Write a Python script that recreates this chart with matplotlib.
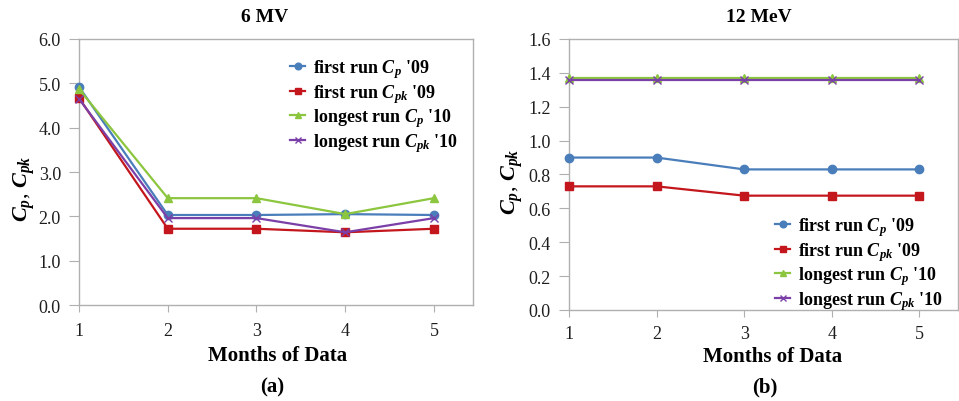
import matplotlib
matplotlib.use("Agg")
import matplotlib.pyplot as plt

plt.rcParams['font.family'] = ['Liberation Serif', 'DejaVu Serif']
plt.rcParams['mathtext.fontset'] = 'custom'
plt.rcParams['mathtext.rm'] = 'Liberation Serif:bold'
plt.rcParams['mathtext.it'] = 'Liberation Serif:italic:bold'
plt.rcParams['mathtext.bf'] = 'Liberation Serif:bold'

months = [1, 2, 3, 4, 5]
series_labels = [r"first run $C_p$ '09", r"first run $C_{pk}$ '09",
                 r"longest run $C_p$ '10", r"longest run $C_{pk}$ '10"]

# panel (a): 6 MV
mv6_first_cp = [4.92, 2.03, 2.03, 2.05, 2.03]
mv6_first_cpk = [4.67, 1.72, 1.72, 1.64, 1.72]
mv6_long_cp = [4.87, 2.41, 2.41, 2.05, 2.41]
mv6_long_cpk = [4.65, 1.96, 1.96, 1.64, 1.96]

# panel (b): 12 MeV
mev12_first_cp = [0.90, 0.90, 0.83, 0.83, 0.83]
mev12_first_cpk = [0.73, 0.73, 0.675, 0.675, 0.675]
mev12_long_cp = [1.37, 1.37, 1.37, 1.37, 1.37]
mev12_long_cpk = [1.36, 1.36, 1.36, 1.36, 1.36]

colors = ['#4A7EBB', '#C3171D', '#8CC63F', '#7B3FA8']
markers = ['o', 's', '^', 'x']


def draw_panel(ax, data, ylim, yticks, xpad):
    for vals, c, m, lab in zip(data, colors, markers, series_labels):
        ax.plot(months, vals, color=c, marker=m, markersize=6, lw=1.6,
                label=lab, clip_on=False, zorder=3)
    ax.set_xlim(1, 5.44)
    ax.set_ylim(*ylim)
    ax.set_xticks(months)
    ax.set_yticks(yticks)
    ax.set_yticklabels(['{:.1f}'.format(v) for v in yticks])
    for sp in ax.spines.values():
        sp.set_color('#B0B0B0')
        sp.set_linewidth(1.0)
    ax.tick_params(axis='x', length=5, pad=xpad, color='#B0B0B0', labelsize=13)
    ax.tick_params(axis='y', length=7, pad=6, color='#B0B0B0', labelsize=13)
    for t in ax.get_xticklabels() + ax.get_yticklabels():
        t.set_color('#1E1E1E')


fig = plt.figure(figsize=(9.59, 4.02), dpi=100)
ax1 = fig.add_axes([0.0824, 0.2388, 0.4108, 0.6617])
ax2 = fig.add_axes([0.5933, 0.2264, 0.4057, 0.6741])

draw_panel(ax1, [mv6_first_cp, mv6_first_cpk, mv6_long_cp, mv6_long_cpk],
           (0, 6.0), [0, 1, 2, 3, 4, 5, 6], 7)
draw_panel(ax2, [mev12_first_cp, mev12_first_cpk, mev12_long_cp, mev12_long_cpk],
           (0, 1.6), [0, 0.2, 0.4, 0.6, 0.8, 1.0, 1.2, 1.4, 1.6], 5.5)

leg_kw = dict(frameon=False, fontsize=13, handlelength=0.85, handletextpad=0.45,
              labelspacing=0.1, borderaxespad=0, borderpad=0, markerscale=0.8)
l1 = ax1.legend(loc='upper left', bbox_to_anchor=(290 / 959, 1 - 58 / 402),
                bbox_transform=fig.transFigure, **leg_kw)
l2 = ax2.legend(loc='upper left', bbox_to_anchor=(775 / 959, 1 - 216 / 402),
                bbox_transform=fig.transFigure, **leg_kw)
for leg in (l1, l2):
    for t in leg.get_texts():
        t.set_fontweight('bold')

# titles, axis labels, panel tags
fig.text(265 / 959, 1 - 18 / 402, '6 MV', ha='center', va='center',
         fontsize=14, fontweight='bold')
fig.text(759 / 959, 1 - 18 / 402, '12 MeV', ha='center', va='center',
         fontsize=14, fontweight='bold')
fig.text(278 / 959, 1 - 356 / 402, 'Months of Data', ha='center', va='center',
         fontsize=15, fontweight='bold')
fig.text(773 / 959, 1 - 357 / 402, 'Months of Data', ha='center', va='center',
         fontsize=15, fontweight='bold')
fig.text(272 / 959, 1 - 387 / 402, '(a)', ha='center', va='center',
         fontsize=15, fontweight='bold')
fig.text(765 / 959, 1 - 387 / 402, '(b)', ha='center', va='center',
         fontsize=15, fontweight='bold')
fig.text(24 / 959, 1 - 189 / 402, r'$C_p$, $C_{pk}$', ha='center', va='center',
         rotation=90, fontsize=16)
fig.text(512 / 959, 1 - 182 / 402, r'$C_p$, $C_{pk}$', ha='center', va='center',
         rotation=90, fontsize=16)

fig.savefig('out.png', dpi=100)
